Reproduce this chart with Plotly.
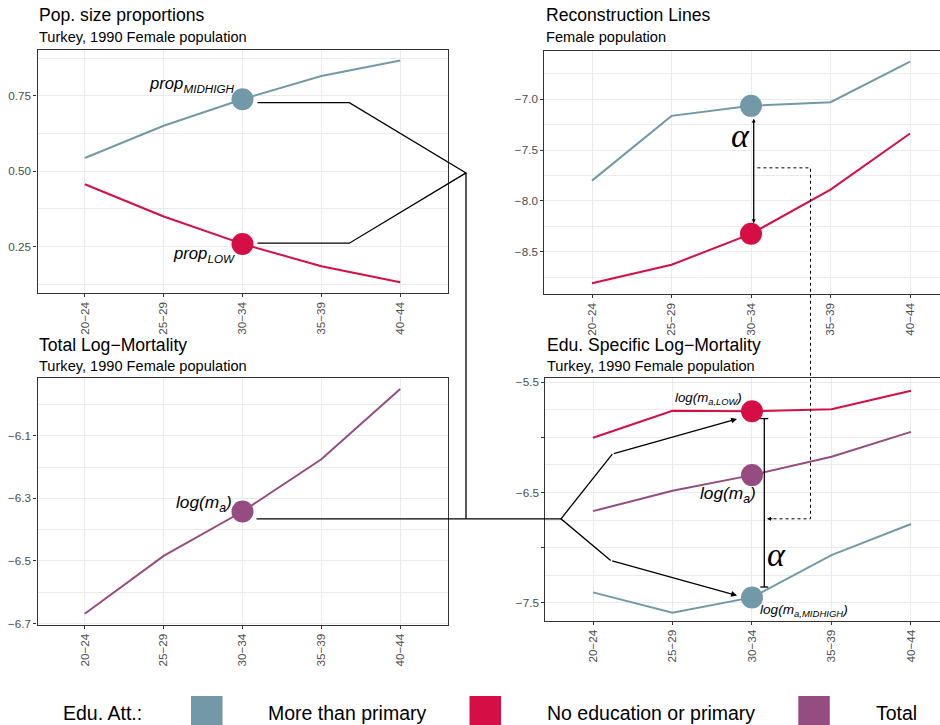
import plotly.graph_objects as go

# ---------------------------------------------------------------- data
AGE_GROUPS = ["20−24", "25−29", "30−34", "35−39", "40−44"]
FOCUS_GROUP = "30−34"

# population shares by educational attainment
PROP_MIDHIGH = [0.544, 0.651, 0.739, 0.816, 0.867]
PROP_LOW = [0.457, 0.350, 0.259, 0.185, 0.132]

# reconstruction lines
RECON_MIDHIGH = [-7.800, -7.164, -7.066, -7.030, -6.631]
RECON_LOW = [-8.808, -8.627, -8.323, -7.889, -7.337]

# total log-mortality
LOGM_TOTAL = [-6.669, -6.484, -6.342, -6.175, -5.950]

# education-specific log-mortality
LOGM_LOW = [-6.003, -5.758, -5.763, -5.745, -5.576]
LOGM_MIDHIGH = [-7.406, -7.591, -7.452, -7.068, -6.786]

LEGEND_TITLE = "Edu. Att.:"
LEGEND_LABELS = ["More than primary", "No education or primary", "Total"]

# ---------------------------------------------------------------- style
W, H = 940, 725
SANS = "Liberation Sans, Arial, sans-serif"
SERIF = "Liberation Serif, DejaVu Serif, serif"
MID_COL, LOW_COL, TOT_COL = "#7399A8", "#D50F46", "#954C80"
INK = "#000000"
AXIS_COL = "#333333"
GRID_COL = "#EBEBEB"
TICK_COL = "#4D4D4D"


def padded(values, frac=0.05):
    lo, hi = min(values), max(values)
    pad = (hi - lo) * frac
    return [lo - pad, hi + pad]


def fmt(v, nd):
    s = f"{abs(v):.{nd}f}"
    return "−" + s if v < 0 else s


PANELS = [
    dict(box=(37.5, 49.5, 447.5, 293.3), xmax=4.6,
         yrange=padded(PROP_MIDHIGH + PROP_LOW),
         major=[0.25, 0.5, 0.75], labelled=[0.25, 0.5, 0.75], nd=2,
         minor=[0.125, 0.375, 0.625, 0.875], closed=True, title_y=(14.5, 37.0),
         title="Pop. size proportions", subtitle="Turkey, 1990 Female population",
         series=[(PROP_MIDHIGH, MID_COL), (PROP_LOW, LOW_COL)]),
    dict(box=(544.3, 50.5, 940.0, 294.3), xmax=4.377,
         yrange=padded(RECON_MIDHIGH + RECON_LOW),
         major=[-8.5, -8.0, -7.5, -7.0], labelled=[-8.5, -8.0, -7.5, -7.0], nd=1,
         minor=[-8.75, -8.25, -7.75, -7.25, -6.75], closed=False, title_y=(15.5, 37.5),
         title="Reconstruction Lines", subtitle="Female population",
         series=[(RECON_MIDHIGH, MID_COL), (RECON_LOW, LOW_COL)]),
    dict(box=(37.5, 377.7, 447.5, 625.0), xmax=4.6,
         yrange=padded(LOGM_TOTAL),
         major=[-6.7, -6.5, -6.3, -6.1], labelled=[-6.7, -6.5, -6.3, -6.1], nd=1,
         minor=[-6.6, -6.4, -6.2, -6.0], closed=True, title_y=(345.0, 366.0),
         title="Total Log−Mortality", subtitle="Turkey, 1990 Female population",
         series=[(LOGM_TOTAL, TOT_COL)]),
    dict(box=(545.3, 377.7, 940.0, 621.0), xmax=4.365,
         yrange=[-7.666, -5.458],
         major=[-7.5, -7.0, -6.5, -6.0, -5.5], labelled=[-7.5, -6.5, -5.5], nd=1,
         minor=[-7.25, -6.75, -6.25, -5.75], closed=False, title_y=(345.0, 366.0),
         title="Edu. Specific Log−Mortality", subtitle="Turkey, 1990 Female population",
         series=[(LOGM_LOW, LOW_COL), (LOGM_TOTAL, TOT_COL), (LOGM_MIDHIGH, MID_COL)]),
]


def fx(x):
    return x / W


def fy(y):
    return 1 - y / H


def to_px(k, i, v):
    """Pixel position of category index i / value v inside panel k."""
    p = PANELS[k]
    x0, y0, x1, y1 = p["box"]
    xr0, xr1 = -0.6, p["xmax"]
    yr0, yr1 = p["yrange"]
    return (x0 + (i - xr0) / (xr1 - xr0) * (x1 - x0),
            y1 - (v - yr0) / (yr1 - yr0) * (y1 - y0))


fig = go.Figure()
fi = AGE_GROUPS.index(FOCUS_GROUP)
layout = {}

for k, p in enumerate(PANELS):
    n = k + 1
    xa, ya = f"x{n}", f"y{n}"
    for values, col in p["series"]:
        fig.add_trace(go.Scatter(x=AGE_GROUPS, y=values, mode="lines",
                                 line=dict(color=col, width=2),
                                 xaxis=xa, yaxis=ya, showlegend=False,
                                 hoverinfo="skip"))
    for values, col in p["series"]:
        fig.add_trace(go.Scatter(x=[AGE_GROUPS[fi]], y=[values[fi]], mode="markers",
                                 marker=dict(color=col, size=22, line=dict(width=0)),
                                 xaxis=xa, yaxis=ya, showlegend=False,
                                 hoverinfo="skip"))
    x0, y0, x1, y1 = p["box"]
    layout[f"xaxis{n}"] = dict(
        domain=[fx(x0), fx(x1)], anchor=ya, type="category",
        categoryorder="array", categoryarray=AGE_GROUPS,
        range=[-0.6, p["xmax"]], tickangle=-90, automargin=False,
        ticks="outside", ticklen=3, tickwidth=1, tickcolor=AXIS_COL,
        tickfont=dict(family=SANS, size=11.7, color=TICK_COL),
        showline=True, linecolor=AXIS_COL, linewidth=1.1, mirror=True,
        showgrid=True, gridcolor=GRID_COL, gridwidth=1, zeroline=False,
        fixedrange=True)
    layout[f"yaxis{n}"] = dict(
        domain=[fy(y1), fy(y0)], anchor=xa, range=p["yrange"], automargin=False,
        tickmode="array", tickvals=p["major"],
        ticktext=[fmt(v, p["nd"]) if v in p["labelled"] else " " for v in p["major"]],
        ticks="outside", ticklen=3, tickwidth=1, tickcolor=AXIS_COL,
        tickfont=dict(family=SANS, size=11.7, color=TICK_COL),
        showline=True, linecolor=AXIS_COL, linewidth=1.1, mirror=p["closed"],
        showgrid=True, gridcolor=GRID_COL, gridwidth=1, zeroline=False,
        minor=dict(tickmode="array", tickvals=p["minor"], showgrid=True,
                   gridcolor=GRID_COL, gridwidth=0.6, ticks=""),
        fixedrange=True)

annotations = []
shapes = []


def text(x, y, s, size, xanchor="left", family=SANS, color=INK, yanchor="middle"):
    annotations.append(dict(x=fx(x), y=fy(y), xref="paper", yref="paper",
                            text=s, showarrow=False, xanchor=xanchor, yanchor=yanchor,
                            font=dict(family=family, size=size, color=color)))


def seg_path(points, dash="solid", width=1.3):
    d = "M " + " L ".join(f"{fx(x):.5f},{fy(y):.5f}" for x, y in points)
    shapes.append(dict(type="path", path=d, xref="paper", yref="paper",
                       line=dict(color=INK, width=width, dash=dash), layer="above"))


def arrow(tail, tip, both=False, size=0.9, width=1.3):
    a = dict(x=fx(tip[0]), y=fy(tip[1]), xref="paper", yref="paper",
             ax=tail[0] - tip[0], ay=tail[1] - tip[1], text="",
             showarrow=True, arrowhead=2, arrowsize=size, arrowwidth=width,
             arrowcolor=INK, standoff=0, startstandoff=0)
    if both:
        a.update(arrowside="end+start", startarrowhead=2, startarrowsize=size)
    annotations.append(a)


# panel titles
for p in PANELS:
    x0 = p["box"][0]
    ty, sy = p["title_y"]
    text(x0 - 0.5, ty, p["title"], 17.6)
    text(x0 - 0.5, sy, p["subtitle"], 14.6)

# highlighted points
b1 = to_px(0, fi, PROP_MIDHIGH[fi])
r1 = to_px(0, fi, PROP_LOW[fi])
b2 = to_px(1, fi, RECON_MIDHIGH[fi])
r2 = to_px(1, fi, RECON_LOW[fi])
t3 = to_px(2, fi, LOGM_TOTAL[fi])
r4 = to_px(3, fi, LOGM_LOW[fi])
t4 = to_px(3, fi, LOGM_TOTAL[fi])
b4 = to_px(3, fi, LOGM_MIDHIGH[fi])

# labels next to the highlighted points
text(b1[0] - 6, b1[1] - 15, "<i>prop<sub>MIDHIGH</sub></i>", 16.7, xanchor="right")
text(r1[0] - 6, r1[1] + 11, "<i>prop<sub>LOW</sub></i>", 16.7, xanchor="right")
text(t3[0] - 9, t3[1] - 8, "<i>log(m<sub>a</sub>)</i>", 17.3, xanchor="right")
text(r4[0] - 8, r4[1] - 13, "<i>log(m<sub>a,LOW</sub>)</i>", 13.3, xanchor="right")
text(t4[0] + 5.6, t4[1] + 19, "<i>log(m<sub>a</sub>)</i>", 17.3, xanchor="right")
text(b4[0] + 6, b4[1] + 13.5, "<i>log(m<sub>a,MIDHIGH</sub>)</i>", 13.6, xanchor="left")
text(b2[0] - 11, b2[1] + 30, "<i>α</i>", 34, xanchor="center", family=SERIF)
text(b4[0] + 25, b4[1] - 43, "<i>α</i>", 34, xanchor="center", family=SERIF)

# connectors: proportions -> junction -> total -> education specific
GAP_X = 466
ELBOW_X = 349.3
FORK_X = 561
b_y = b1[1] + 3.4
r_y = r1[1] - 0.7
join = (GAP_X, (b_y + r_y) / 2)
bus_y = t3[1] + 7.3
seg_path([(b1[0] + 15, b_y), (ELBOW_X, b_y), join, (ELBOW_X, r_y), (r1[0] + 15, r_y)])
seg_path([join, (GAP_X, bus_y)])
seg_path([(t3[0] + 14, bus_y), (FORK_X, bus_y)])
up_elbow = (FORK_X + 51.3, bus_y - 64.7)
dn_elbow = (FORK_X + 49.7, bus_y + 41.7)
seg_path([up_elbow, (FORK_X, bus_y), dn_elbow])
arrow(up_elbow, (r4[0] - 15, r4[1] + 7.6))
arrow(dn_elbow, (b4[0] - 15, b4[1] - 2))

# alpha gap in the reconstruction panel
arrow((b2[0] + 2.7, b2[1] + 11.3), (b2[0] + 2.7, r2[1] - 10.7), both=True, size=0.6)

# dotted link carrying alpha down to the specific log-mortality panel
DOT_X = 810.5
mid2 = (b2[1] + r2[1]) / 2 - 2
seg_path([(b2[0] + 6.4, mid2), (DOT_X, mid2), (DOT_X, bus_y), (r4[0] + 19, bus_y)],
         dash="dot", width=1)
arrow((r4[0] + 22, bus_y), (r4[0] + 15, bus_y), size=0.8, width=1)

# alpha bar between education-specific points
bar_x = r4[0] + 12.3
bar_top, bar_bot = r4[1] + 7.3, b4[1] - 10.4
seg_path([(bar_x, bar_top), (bar_x, bar_bot)], width=1.3)
seg_path([(bar_x - 4, bar_top), (bar_x + 4, bar_top)], width=1.3)
seg_path([(bar_x - 4, bar_bot), (bar_x + 4, bar_bot)], width=1.3)

# legend
LEG_Y = 713
text(61, LEG_Y, LEGEND_TITLE, 19.5)
key_x = [191, 469.5, 798.3]
label_x = [265.7, 545, 874]
for kx, lx, lab, col in zip(key_x, label_x, LEGEND_LABELS, [MID_COL, LOW_COL, TOT_COL]):
    shapes.append(dict(type="rect", xref="paper", yref="paper",
                       x0=fx(kx), x1=fx(kx + 31.5), y0=fy(728), y1=fy(696),
                       fillcolor=col, line=dict(width=0), layer="above"))
    text(lx, LEG_Y, lab, 19.5)

fig.update_layout(
    width=W, height=H, margin=dict(l=0, r=0, t=0, b=0, autoexpand=False),
    paper_bgcolor="white", plot_bgcolor="white",
    showlegend=False, annotations=annotations, shapes=shapes,
    font=dict(family=SANS), **layout)

fig.write_html("out.html")
